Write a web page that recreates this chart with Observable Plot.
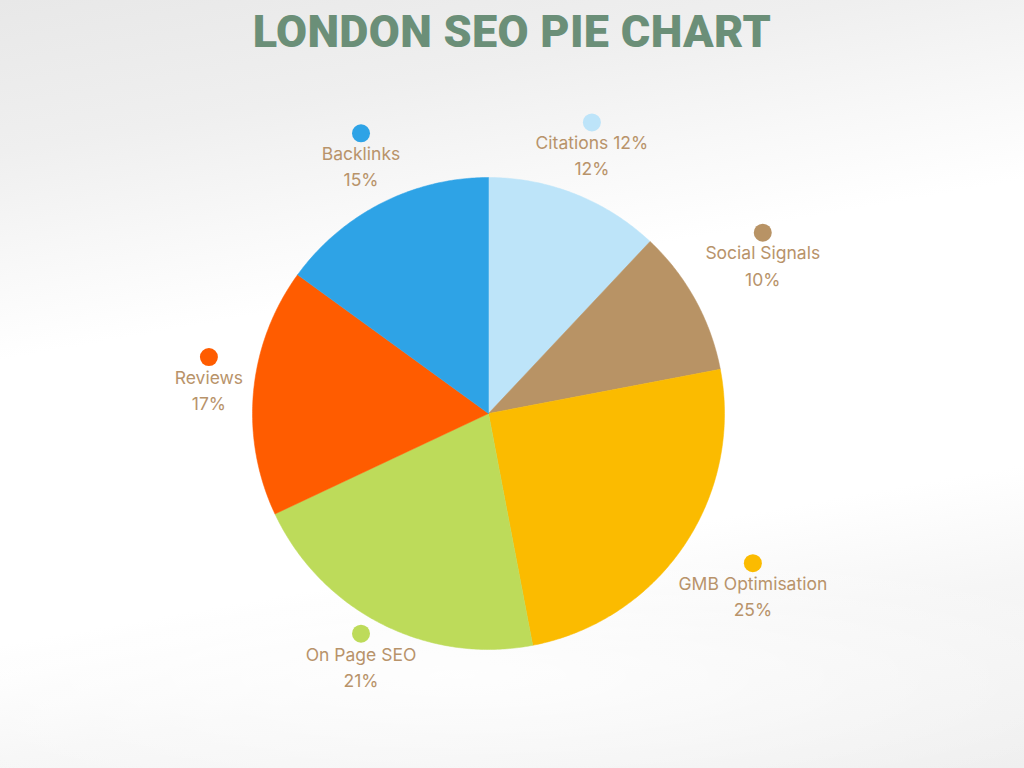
<!DOCTYPE html>
<html>
<head>
<meta charset="utf-8">
<script src="https://cdn.jsdelivr.net/npm/d3@7"></script>
<script src="https://cdn.jsdelivr.net/npm/@observablehq/plot@0.6"></script>
<style>
  html, body { margin: 0; padding: 0; width: 1024px; height: 768px; overflow: hidden; }
  body {
    background:
      radial-gradient(ellipse 1000px 200px at 45% 88%, rgba(255,255,255,0.85), rgba(255,255,255,0) 70%),
      linear-gradient(170deg, #e8e8e8 0%, #efefef 16%, #f8f8f8 28%, #ffffff 38%, #ffffff 68%, #f6f6f6 80%, #efefef 100%);
  }
  #title {
    height: 64px; line-height: 64px; text-align: center;
    font-family: "Roboto", "Lato", sans-serif; font-weight: 900;
    font-size: 45px; color: #6b8f78; letter-spacing: 0.3px;
  }
</style>
</head>
<body>
<div id="title">LONDON SEO PIE CHART</div>
<div id="chart"></div>
<script>
const categories = ["Citations", "Social Signals", "GMB Optimisation", "On Page SEO", "Reviews", "Backlinks"];
const labelNames = ["Citations 12%", "Social Signals", "GMB Optimisation", "On Page SEO", "Reviews", "Backlinks"];
const values = [12, 10, 25, 21, 17, 15];
const colors = ["#bde4f9", "#b89365", "#fbbb00", "#bddb5a", "#ff5c00", "#2ea3e6"];

const R = 236, cx = 488, cy = 349;
const total = d3.sum(values);
const slices = [];
const labelRows = [];
let cum = 0;
categories.forEach((c, i) => {
  const a0 = cum / total * 2 * Math.PI;
  cum += values[i];
  const a1 = cum / total * 2 * Math.PI;
  const pts = [{x: 0, y: 0}];
  const n = Math.max(8, Math.ceil((a1 - a0) / 0.01));
  for (let k = 0; k <= n; k++) {
    const t = a0 + (a1 - a0) * k / n;
    pts.push({x: Math.sin(t), y: Math.cos(t)});
  }
  pts.push({x: 0, y: 0});
  slices.push({cat: c, color: colors[i], pts});
  const am = (a0 + a1) / 2;
  // push wide labels further out so they clear the pie
  const halfW = labelNames[i].length * 4.6;
  const rr = 1.19 + 1.5 * Math.max(0, halfW * Math.abs(Math.sin(am)) - 35) / R;
  labelRows.push({
    cat: c, color: colors[i],
    x: rr * Math.sin(am), y: rr * Math.cos(am),
    text: labelNames[i] + "\n" + values[i] + "%"
  });
});

const chart = Plot.plot({
  width: 1024,
  height: 704,
  margin: 0,
  style: {background: "transparent", fontFamily: "Inter, 'DejaVu Sans', sans-serif"},
  x: {domain: [-1, 1], range: [cx - R, cx + R], axis: null},
  y: {domain: [-1, 1], range: [cy + R, cy - R], axis: null},
  marks: [
    ...slices.map(s => Plot.line(s.pts, {x: "x", y: "y", fill: s.color, stroke: s.color, strokeWidth: 0.5, curve: "linear"})),
    Plot.dot(labelRows, {x: "x", y: "y", dy: -30, r: 9, fill: "color", stroke: "none"}),
    Plot.text(labelRows, {x: "x", y: "y", text: "text", dy: 1.5, lineAnchor: "middle", lineHeight: 1.5, fontSize: 17.5, fontWeight: 400, fill: "#b8936a"})
  ]
});
document.getElementById("chart").appendChild(chart);
</script>
</body>
</html>
